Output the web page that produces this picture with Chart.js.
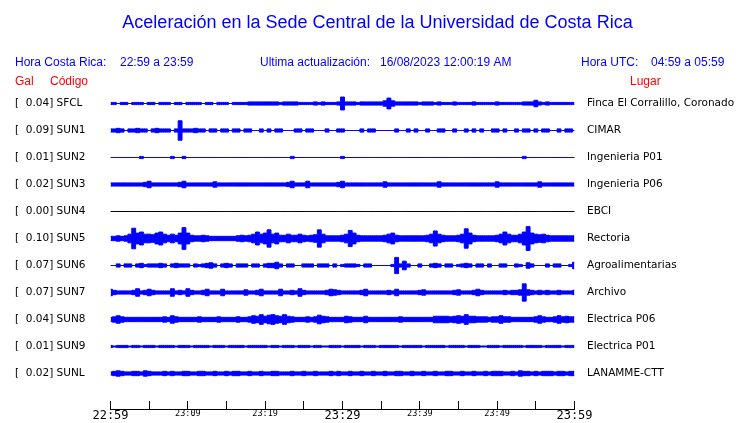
<!DOCTYPE html>
<html>
<head>
<meta charset="utf-8">
<script src="https://cdn.jsdelivr.net/npm/chart.js"></script>
<style>
  body { margin: 0; background: #fff; }
</style>
</head>
<body>
<canvas id="sismos" width="740" height="423"></canvas>
<script>
const codes = ['SFCL', 'SUN1', 'SUN2', 'SUN3', 'SUN4', 'SUN5', 'SUN6', 'SUN7', 'SUN8', 'SUN9', 'SUNL'];
const peaks = ['0.04', '0.09', '0.01', '0.02', '0.00', '0.10', '0.07', '0.07', '0.04', '0.01', '0.02'];
const places = ['Finca El Corralillo, Coronado', 'CIMAR', 'Ingenieria P01', 'Ingenieria P06', 'EBCI', 'Rectoria',
  'Agroalimentarias', 'Archivo', 'Electrica P06', 'Electrica P01', 'LANAMME-CTT'];
const timeLabels = ['22:59', '', '23:09', '', '23:19', '', '23:29', '', '23:39', '', '23:49', '', '23:59'];

// envelope (half amplitude) of each trace, one value every half minute, 22:59 -> 23:59
const ampSFCL = [1,1,0,1,1,0,1,1,1,0, 1,1,0,1,1,1,0,1,1,0, 1,1,1,1,0,1,1,0,1,1, 1,0,1,1,1,1,1.5,1.5,1.5,1.5,
  1.5,1.5,1.5,1.5,1,1.5,1.5,1.5,1.5,1, 1,1,1,1.5,1,1.5,1,1,1,1.5, 6,1.5,1.5,1.5,1,1.5,1.5,1.5,1.5,1.5, 1.5,2.5,5,2.5,1.5,1.5,1.5,1.5,1.5,1.5,
  1,1.5,1.5,1.5,1,1.5,1,1,1,1.5, 1,1,1,1,1.5,1,1,1,1,1, 1.5,1,1,1,1,1,1,1.5,1.5,1.5, 3,1.5,1,1.5,1,1,1,1,1,1, 1];
const ampSUN1 = [1.5,1.5,2,1.5,0,1.5,1.5,2,1.5,1.5, 0,1.5,2,1.5,1.5,1.5,0,1.5,9,1.5, 1.5,1.5,2,1.5,1.5,0,1.5,1.5,0,1.5,
  1.5,0,1.5,1.5,0,1.5,1.5,0,0,1.5, 0,1.5,0,1.5,1.5,0,0,0,1.5,1.5, 0,1.5,1.5,0,0,0,1.5,0,0,1.5,
  1.5,0,0,0,0,1.5,0,1.5,1.5,0, 0,0,0,0,1.5,0,0,1.5,0,1.5, 0,0,1.5,0,0,1.5,1.5,0,0,1.5,
  0,0,1.5,0,1.5,0,1.5,0,0,1.5, 1.5,0,1.5,0,0,1.5,0,1.5,1.5,0, 1.5,0,1.5,1.5,0,0,1.5,0,1.5,1.5, 0];
const ampSUN2 = [0,0,0,0,0,0,0,0,1,0, 0,0,0,0,0,0,1,0,0,1, 0,0,0,0,0,0,0,0,0,0, 0,0,0,0,0,0,0,0,0,0,
  0,0,0,0,0,0,0,1,0,0, 0,0,0,0,0,0,0,0,0,0, 1,0,0,0,0,0,0,0,0,0, 0,0,0,0,0,0,0,0,0,0, 0,0,0,0,0,0,0,0,0,0,
  0,0,0,0,0,0,0,0,0,0, 0,0,0,0,0,0,0,1,0,0, 0,0,0,0,0,0,0,0,0,0, 0];
const ampSUN3 = [1.5,1.5,1.5,1.5,1.5,1.5,1.5,1.5,1.5,2, 3,1.5,1.5,1.5,1.5,1.5,1.5,1.5,2,3, 1.5,1.5,1.5,1.5,1.5,1.5,1.5,2.5,1.5,1.5,
  1.5,1.5,1.5,1.5,1.5,1.5,1.5,1.5,1.5,1.5, 1.5,1.5,1.5,1.5,1.5,1.5,2,3,1.5,1.5, 1.5,3,1.5,1.5,1.5,1.5,1.5,1.5,1.5,2,
  3,1.5,1.5,1.5,1.5,1.5,1.5,1.5,1.5,1.5, 1.5,2.5,1.5,1.5,1.5,1.5,1.5,1.5,1.5,1.5, 1.5,1.5,1.5,1.5,1.5,2.5,1.5,1.5,1.5,1.5,
  1.5,1.5,1.5,1.5,1.5,1.5,1.5,1.5,1.5,1.5, 2.5,1.5,1.5,1.5,1.5,1.5,1.5,1.5,1.5,1.5, 1.5,2.5,1.5,1.5,1.5,1.5,1.5,1.5,1.5,1.5, 1.5];
const ampSUN4 = [0,0,0,0,0,0,0,0,0,0, 0,0,0,0,0,0,0,0,0,0, 0,0,0,0,0,0,0,0,0,0, 0,0,0,0,0,0,0,0,0,0,
  0,0,0,0,0,0,0,0,0,0, 0,0,0,0,0,0,0,0,0,0, 0,0,0,0,0,0,0,0,0,0, 0,0,0,0,0,0,0,0,0,0, 0,0,0,0,0,0,0,0,0,0,
  0,0,0,0,0,0,0,0,0,0, 0,0,0,0,0,0,0,0,0,0, 0,0,0,0,0,0,0,0,0,0, 0];
const ampSUN5 = [2,2,2.5,2,2.5,4,9.5,5,6,4, 4,3.5,5,6,4,3,4,3,5,10, 5,3,2.5,2.5,3,2.5,2,2,2,2,
  2,2,2,2.5,3,2.5,3,4,6,4, 5,8,4,5,3,3,4,3,3,4, 3,2.5,3,3.5,8,4,2.5,2.5,2.5,2.5, 3,4,7.5,5,3,2.5,2.5,2.5,2.5,2.5,
  2.5,3,4,5,3,2.5,2.5,2.5,2.5,2.5, 2.5,2.5,3,4,7,4,3,2.5,2.5,2.5, 3,4,9,5,3,2.5,2.5,2.5,2.5,2.5,
  3,4,6,4,3,3,4,6,11,5, 4,3.5,4,3,2.5,2.5,2.5,2.5,2.5,2.5, 2.5];
const ampSUN6 = [0,0,1.5,0,1.5,1.5,0,1.5,2,1, 1.5,1.5,1.5,2,1.5,0,1.5,2,1.5,1.5, 1.5,0,1.5,1,1.5,2,2.5,1.5,0,1.5,
  2,1.5,0,1.5,1.5,1.5,0,1.5,1.5,0, 1.5,2,2,3,1.5,0,1.5,1.5,0,0, 1.5,1.5,1.5,0,1.5,1.5,1.5,0,1.5,0,
  1,1.5,1.5,1.5,1,0,1.5,1.5,0,0, 0,0,0,1,7.5,1.5,4,1.5,0,0, 1.5,0,0,1.5,2,1.5,0,1.5,1.5,0,
  1,1.5,2,1.5,0,1.5,1.5,0,1.5,0, 0,1.5,1.5,0,0,1.5,1,0,2.5,1.5, 0,0,0,1.5,0,1.5,1.5,0,0,1, 3];
const ampSUN7 = [3,2,1.5,1.5,1.5,1.5,2,3.5,1.5,2, 3,2,1.5,1.5,1.5,1.5,3.5,1.5,2,1.5, 3.5,2,1.5,1.5,2,3,1.5,1.5,1.5,3,
  1.5,1.5,1.5,1.5,1.5,2.5,1.5,1.5,2,3, 1.5,1.5,1.5,1.5,3,1.5,1.5,2,1.5,3.5, 2,1.5,1.5,1.5,1.5,1.5,2,3,2.5,2,
  1.5,1.5,1.5,1.5,1.5,2,3,1.5,1.5,1.5, 1.5,1.5,2,1.5,3,1.5,1.5,1.5,1.5,1.5, 2,2.5,1.5,1.5,1.5,1.5,1.5,1.5,1.5,2,
  2.5,1.5,1.5,1.5,2,3,2,1.5,1.5,1.5, 1.5,1.5,2,1.5,2,2,2.5,8,2.5,2, 1.5,2,1.5,2,1.5,1.5,2,1.5,1.5,1.5, 2];
const ampSUN8 = [2,2.5,3.5,2.5,2,2,2,2,2,2, 2,2,2,2,2.5,2,3.5,2.5,2,2, 2,2,2,2.5,2,2,2,2,2.5,2,
  2,2,2,2.5,2,2,2.5,3.5,3,4.5, 3,4,4.5,3.5,3,4.5,3,2.5,2,2, 2,2.5,2,2.5,4,3,2.5,2,2,2,
  2,3,2.5,2,2,2,3,2,2,2, 2,2,2,2,2,2.5,2,2,2,2, 2,2,2,2,3,3,3,3,2.5,3,
  3.5,3,4.5,3,3,2.5,2.5,2.5,2,2.5, 2.5,3.5,2.5,2.5,2,2,2,2,2,2, 2.5,3.5,2.5,2,2,2.5,3.5,2.5,3,2.5, 2.5];
const ampSUN9 = [1,0.5,1,1,1,0.5,1,1,0.5,1, 1,1,0.5,1,1,1,1,0.5,1,1, 1,0.5,1,1,1,1,0.5,1,1,1,
  0.5,1,1,1,1,0.5,1,1,1,1, 1,0.5,1,1,0.5,1,1,1,0.5,1, 1,1,0.5,1,1,0.5,0.5,1,1,1,
  0.5,1,1,1,1,0.5,1,1,1,0.5, 1,1,1,1,1,0.5,1,1,1,1, 1,0.5,1,1,1,1,1,0.5,1,1,
  1,1,0.5,1,1,1,0.5,0.5,1,1, 1,0.5,1,1,1,1,1,0.5,1,1, 1,1,0.5,1,1,1,1,0.5,1,1, 1];
const ampSUNL = [1.5,2,2.5,2,1.5,1.5,2,2,1.5,2.5, 2,1.5,1.5,1.5,2,1.5,2,1.5,1.5,2, 2,1.5,1.5,2,2,1.5,1.5,2,1.5,1.5,
  2,1.5,2,2,1.5,1.5,2,1.5,1.5,2, 1.5,1.5,2,2,1.5,1.5,1.5,2,1.5,1.5, 2,1.5,1.5,2,1.5,1.5,1.5,2,1.5,2,
  1.5,1.5,2,1.5,1.5,2,1.5,1.5,2,1.5, 1.5,2,1.5,1.5,2,2,1.5,1.5,2,1.5, 1.5,2,1.5,1.5,2,1.5,1.5,2,2,1.5,
  1.5,2,1.5,1.5,2,1.5,1.5,2,1.5,2, 2,2,1.5,1.5,2,1.5,2.5,2,2,1.5, 2,1.5,2,2,2,1.5,2,2,1.5,2, 2];

const traces = [ampSFCL, ampSUN1, ampSUN2, ampSUN3, ampSUN4, ampSUN5, ampSUN6, ampSUN7, ampSUN8, ampSUN9, ampSUNL];
const binMinutes = 0.5;
const rowGap = 25;

const BLUE = '#0000ff';
const RED = '#ff0000';
const rowValue = k => (codes.length - 1 - k) * rowGap;

const datasets = [];
traces.forEach((amp, k) => {
  const color = codes[k] === 'SUN4' ? '#000000' : BLUE;
  const base = rowValue(k);
  const common = { borderColor: color, backgroundColor: color, borderWidth: 1, pointRadius: 0, stepped: 'middle', yAxisID: 'y' };
  datasets.push({ ...common, label: codes[k] + ' +', fill: false, data: amp.map((a, i) => ({ x: i * binMinutes, y: base + a })) });
  datasets.push({ ...common, label: codes[k] + ' -', fill: '-1', data: amp.map((a, i) => ({ x: i * binMinutes, y: base - a })) });
});

const rowTicks = axis => { axis.ticks = codes.map((c, k) => ({ value: rowValue(k) })); };
const rowIndex = v => Math.round((rowValue(0) - v) / rowGap);

const headerText = {
  id: 'headerText',
  afterDraw(chart) {
    const c = chart.ctx;
    c.save();
    c.textBaseline = 'alphabetic';
    c.textAlign = 'left';
    c.font = '12px "Liberation Sans"';
    c.fillStyle = BLUE;
    c.fillText('Hora Costa Rica:', 15, 66);
    c.fillText('22:59 a 23:59', 120, 66);
    c.fillText('Ultima actualización:', 260, 66);
    c.fillText('16/08/2023 12:00:19 AM', 380, 66);
    c.fillText('Hora UTC:', 581, 66);
    c.fillText('04:59 a 05:59', 651, 66);
    c.fillStyle = RED;
    c.fillText('Gal', 15, 85);
    c.fillText('Código', 50, 85);
    c.fillText('Lugar', 630, 85);
    c.restore();
  }
};

new Chart(document.getElementById('sismos'), {
  type: 'line',
  data: { datasets },
  plugins: [headerText],
  options: {
    responsive: false,
    animation: false,
    devicePixelRatio: 1,
    layout: { padding: { left: 15, right: 0, top: 0, bottom: 0 } },
    plugins: {
      legend: { display: false },
      tooltip: { enabled: false },
      title: {
        display: true,
        text: 'Aceleración en la Sede Central de la Universidad de Costa Rica',
        color: BLUE,
        font: { family: '"Liberation Sans"', size: 18, weight: 'normal' },
        padding: { top: 12, bottom: 56.4 }
      }
    },
    scales: {
      x: {
        type: 'linear',
        min: 0,
        max: 60,
        afterFit: s => { s.height = 14; },
        border: { display: true, color: '#000', width: 1 },
        grid: { display: true, drawOnChartArea: false, drawTicks: true, tickLength: -8, color: '#000' },
        ticks: {
          stepSize: 5,
          autoSkip: false,
          maxRotation: 0,
          padding: 8,
          color: '#000',
          font: ctx => ({ family: '"DejaVu Sans Mono"', size: ctx.index % 6 === 0 ? 12 : 8.5 }),
          callback: (v, i) => timeLabels[i]
        }
      },
      y: {
        position: 'left',
        min: -32.87,
        max: 262.5,
        afterBuildTicks: rowTicks,
        afterFit: s => { s.width = 95.5; },
        border: { display: false },
        grid: { display: false, drawTicks: false },
        ticks: {
          crossAlign: 'far',
          padding: 3,
          color: '#000',
          font: { family: '"DejaVu Sans"', size: 10.5 },
          callback: v => '[  ' + peaks[rowIndex(v)] + '] ' + codes[rowIndex(v)]
        }
      },
      y2: {
        position: 'right',
        min: -32.87,
        max: 262.5,
        afterBuildTicks: rowTicks,
        afterFit: s => { s.width = 165.5; },
        border: { display: false },
        grid: { display: true, drawOnChartArea: false, drawTicks: true, tickLength: 9.5, color: 'rgba(0,0,0,0)' },
        ticks: {
          padding: 3,
          color: '#000',
          font: { family: '"DejaVu Sans"', size: 10.5 },
          callback: v => places[rowIndex(v)]
        }
      }
    }
  }
});
</script>
</body>
</html>
